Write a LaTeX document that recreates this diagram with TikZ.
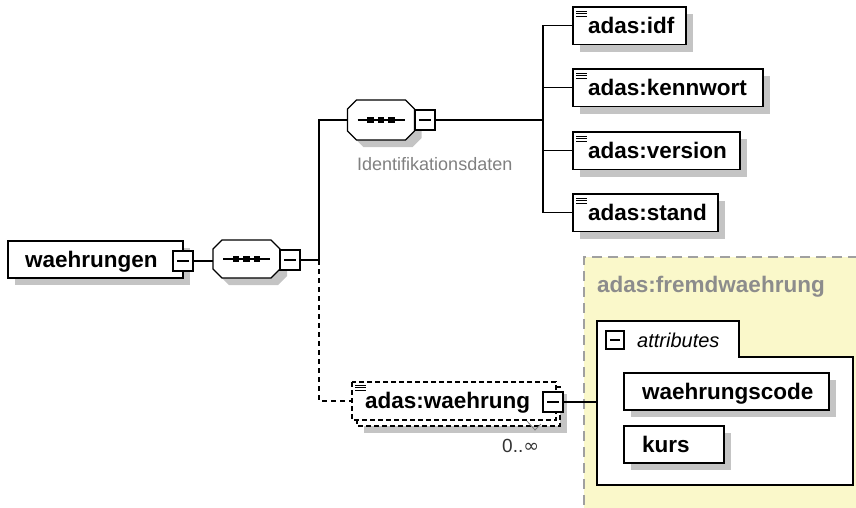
\documentclass[tikz,border=0pt]{standalone}
\usepackage{fontspec}
\setmainfont{Liberation Sans}
\newfontfamily\symfont{DejaVu Sans}
\usetikzlibrary{shadows}
\definecolor{shadowc}{RGB}{196,196,196}
\definecolor{framebg}{RGB}{250,248,202}
\definecolor{frameline}{RGB}{160,160,160}
\definecolor{greytext}{RGB}{128,128,128}
\definecolor{greyfw}{RGB}{140,140,140}
\newcommand\bigbold{\fontsize{22.5}{26}\selectfont\bfseries}
\newcommand\octpath[3]{([xshift=#2+9pt,yshift=#3]#1.north west) -- ([xshift=#2-9pt,yshift=#3]#1.north east) -- ([xshift=#2,yshift=#3-9pt]#1.north east) -- ([xshift=#2,yshift=#3+9pt]#1.south east) -- ([xshift=#2-9pt,yshift=#3]#1.south east) -- ([xshift=#2+9pt,yshift=#3]#1.south west) -- ([xshift=#2,yshift=#3+9pt]#1.south west) -- ([xshift=#2,yshift=#3-9pt]#1.north west) -- cycle}
\newcommand\seqshape[1]{%
  \fill[shadowc] \octpath{#1}{7pt}{-7pt};
  \draw[line width=1.2pt, fill=white] \octpath{#1}{0pt}{0pt};
  \draw[line width=1.3pt] ([xshift=10pt]#1.west) -- ([xshift=-10pt]#1.east);
  \foreach \dx in {-10.5,0,10.5}{\fill ([xshift=\dx pt]#1.center) +(-3.3,-3.3) rectangle +(3.3,3.3);}
}
\newcommand\elemicon[2][0pt]{%
  \foreach \dy in {4,6.7,9.4}{\draw[line width=1pt] ([xshift=3pt,yshift=-\dy pt-#1]#2.north west) -- ++(10.5,0);}
}
\begin{document}
\begin{tikzpicture}[x=1pt,y=-1pt,
  box/.style={draw, line width=1.2pt, fill=white, anchor=north west, minimum height=37.5pt,
    text height=18pt, text depth=3pt, inner ysep=0pt, inner xsep=15pt, align=left,
    font=\bigbold, outer sep=0pt},
  shad/.style={drop shadow={shadow xshift=7pt, shadow yshift=-7pt, fill=shadowc, opacity=1}},
  minus/.style={draw, fill=white, line width=1.1pt, minimum size=20pt, inner sep=0pt, outer sep=0pt,
    path picture={\draw[line width=1.1pt] ([xshift=4pt]path picture bounding box.west) -- ([xshift=-4pt]path picture bounding box.east);}},
  seqn/.style={minimum width=67pt, minimum height=38pt, inner sep=0pt, outer sep=0pt},
  conn/.style={line width=1.1pt},
  dconn/.style={line width=1.1pt, dash pattern=on 5pt off 4pt},
  dbox/.style={line width=1.1pt, dash pattern=on 5pt off 3pt}
]
\useasboundingbox (0,0) rectangle (856,507);

% yellow frame for complex type
\fill[framebg] (584,257) rectangle (858,508);
\draw[frameline, line width=1.5pt, dash pattern=on 10pt off 6pt] (858,257) -- (584,257) -- (584,508);
\node[anchor=base west, inner sep=0pt, font=\bigbold, text=greyfw] (fwlabel) at (597,292) {adas:fremdwaehrung};

% attributes container
\draw[line width=1.2pt, fill=white] (597,321) -- (739,321) -- (739,357) -- (853,357) -- (853,485) -- (597,485) -- cycle;
\coordinate (attrin) at (597,402);
\node[minus, minimum size=18pt] (m5) at (615,340) {};
\node[anchor=base west, inner sep=0pt, font=\fontsize{20}{22}\selectfont\itshape] (attrlabel) at (637,347) {attributes};
\node[box, shad, text width=169pt, inner xsep=18pt, minimum height=37pt] (wcode) at (624,373) {waehrungscode};
\node[box, shad, text width=64pt, inner xsep=18pt, minimum height=37pt] (kurs) at (624,426) {kurs};

% root element
\node[box, shad, text width=141pt, inner xsep=17pt, minimum height=37pt] (root) at (8,241) {waehrungen};
\node[minus] (m1) at (183,261) {};

% sequence 1
\node[seqn] (seq1) at (246.5,259) {};
\seqshape{seq1}
\node[minus] (m2) at (290,260) {};

% sequence 2
\node[seqn, minimum height=40pt] (seq2) at (381,120) {};
\seqshape{seq2}
\node[minus] (m3) at (425,120) {};
\node[anchor=base west, inner sep=0pt, font=\fontsize{18}{20}\selectfont, text=greytext] (idlabel) at (357,170) {Identifikationsdaten};

% junctions
\coordinate (j1) at (319,260);
\coordinate (j2) at (543,120);

% child elements of sequence 2
\node[box, shad, text width=83pt] (idf) at (573,7) {adas:idf};
\node[box, shad, text width=160pt] (kenn) at (573,69) {adas:kennwort};
\node[box, shad, text width=137pt] (vers) at (573,132) {adas:version};
\node[box, shad, text width=115pt] (stand) at (573,194) {adas:stand};
\elemicon{idf}
\elemicon{kenn}
\elemicon{vers}
\elemicon{stand}

% repeated optional element adas:waehrung
\fill[shadowc] (364,394) rectangle (567,433);
\draw[dbox, fill=white] (357,387) rectangle (560,426);
\node[box, draw=none, text width=178pt, inner xsep=13pt, minimum height=38pt] (wae) at (352,382) {adas:waehrung};
\draw[dbox] (wae.north west) rectangle (wae.south east);
\elemicon[-1pt]{wae}
\node[minus] (m4) at (553,402) {};
\draw[gray, line width=0.8pt] (527,421) -- (535,430) -- (541,424);
\node[anchor=base west, inner sep=0pt, font=\fontsize{19}{21}\selectfont, text=black!80] (mult) at (502,452) {0..{\symfont ∞}};

% connectors
\draw[conn] (m1.east) -- (m1.east -| seq1.west);
\draw[conn] (m2.east) -- (j1);
\draw[conn] (j1) |- (seq2.west);
\draw[dconn] (j1) |- (wae.west);
\draw[conn] (m3.east) -- (j2);
\draw[conn] (j2) |- (idf.west);
\draw[conn] (j2) |- (kenn.west);
\draw[conn] (j2) |- (vers.west);
\draw[conn] (j2) |- (stand.west);
\draw[conn] (m4.east) -- (attrin);
\end{tikzpicture}
\end{document}
